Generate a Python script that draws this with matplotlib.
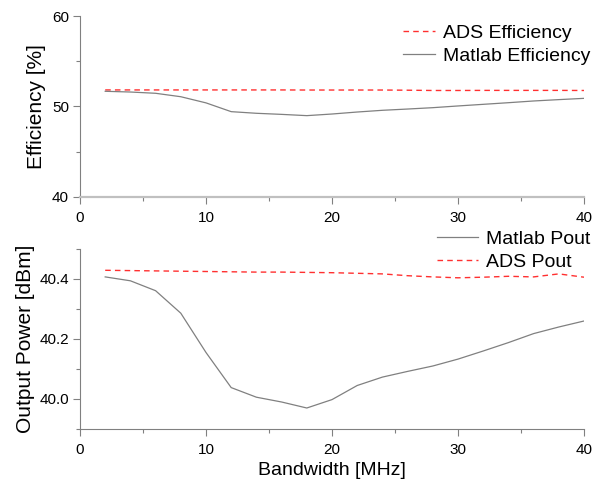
import matplotlib
matplotlib.use("Agg")
import matplotlib.pyplot as plt
from matplotlib.ticker import MultipleLocator

plt.rcParams['font.family'] = ['Liberation Sans', 'DejaVu Sans']

bandwidth = [2, 4, 6, 8, 10, 12, 14, 16, 18, 20, 22, 24, 26, 28, 30, 32, 34, 36, 38, 40]

ads_eff = [51.83, 51.83, 51.83, 51.83, 51.83, 51.83, 51.83, 51.83, 51.82, 51.82,
           51.82, 51.82, 51.80, 51.77, 51.77, 51.78, 51.78, 51.78, 51.78, 51.77]
matlab_eff = [51.68, 51.6, 51.46, 51.08, 50.4, 49.43, 49.25, 49.13, 48.99, 49.17,
              49.39, 49.58, 49.72, 49.87, 50.06, 50.24, 50.42, 50.61, 50.76, 50.9]

matlab_pout = [40.407, 40.394, 40.361, 40.286, 40.155, 40.038, 40.006, 39.99, 39.97, 39.998,
               40.045, 40.073, 40.092, 40.11, 40.133, 40.16, 40.188, 40.218, 40.24, 40.26]
ads_pout = [40.429, 40.428, 40.427, 40.426, 40.425, 40.424, 40.423, 40.423, 40.422, 40.421,
            40.419, 40.417, 40.411, 40.407, 40.404, 40.406, 40.409, 40.407, 40.417, 40.406]

W, H = 602, 492
fig = plt.figure(figsize=(W / 100, H / 100), dpi=100)

grey = '#808080'
red = '#ff3030'


def ax_rect(x0, y0, x1, y1):
    return [x0 / W, 1 - y1 / H, (x1 - x0) / W, (y1 - y0) / H]


def style(ax):
    for s in ['top', 'right']:
        ax.spines[s].set_visible(False)
    for s in ['left', 'bottom']:
        ax.spines[s].set_color(grey)
        ax.spines[s].set_linewidth(0.8)
    ax.tick_params(which='major', direction='out', length=5, width=0.8, color=grey,
                   labelsize=11, labelcolor='black')
    ax.tick_params(axis='x', which='major', pad=5)
    ax.tick_params(axis='y', which='major', pad=3)
    ax.tick_params(which='minor', direction='out', length=3, width=0.8, color=grey)
    ax.set_xlim(0, 40)
    ax.xaxis.set_major_locator(MultipleLocator(10))
    ax.xaxis.set_minor_locator(MultipleLocator(5))


ax1 = fig.add_axes(ax_rect(80, 16, 584, 197))
style(ax1)
ax1.spines['bottom'].set_color('#c0c0c0')
ax1.spines['bottom'].set_linewidth(1.6)
ax1.plot(bandwidth, ads_eff, color=red, lw=1.0, dashes=(4, 3), label='ADS Efficiency')
ax1.plot(bandwidth, matlab_eff, color=grey, lw=0.9, label='Matlab Efficiency')
ax1.set_ylim(40, 60)
ax1.yaxis.set_major_locator(MultipleLocator(10))
ax1.yaxis.set_minor_locator(MultipleLocator(5))
ax1.set_ylabel('Efficiency [%]', fontsize=15, labelpad=4)
ax1.legend(loc='upper left', bbox_to_anchor=(403 / W, 1 - 24 / H), bbox_transform=fig.transFigure,
           frameon=False, fontsize=14, borderpad=0, borderaxespad=0, handlelength=1.65,
           handletextpad=0.4, labelspacing=0.3)

ax2 = fig.add_axes(ax_rect(80, 249, 584, 429))
style(ax2)
ax2.plot(bandwidth, matlab_pout, color=grey, lw=0.9, label='Matlab Pout')
ax2.plot(bandwidth, ads_pout, color=red, lw=1.0, dashes=(4, 3), label='ADS Pout')
ax2.set_ylim(39.9, 40.5)
ax2.set_yticks([40.0, 40.2, 40.4])
ax2.set_yticklabels(['40.0', '40.2', '40.4'])
ax2.yaxis.set_minor_locator(MultipleLocator(0.1))
ax2.set_ylabel('Output Power [dBm]', fontsize=15, labelpad=3)
ax2.set_xlabel('Bandwidth [MHz]', fontsize=14, labelpad=4)
ax2.legend(loc='upper left', bbox_to_anchor=(437 / W, 1 - 230 / H), bbox_transform=fig.transFigure,
           frameon=False, fontsize=14, borderpad=0, borderaxespad=0, handlelength=2.1,
           handletextpad=0.4, labelspacing=0.3)

fig.savefig('out.png', dpi=100)
